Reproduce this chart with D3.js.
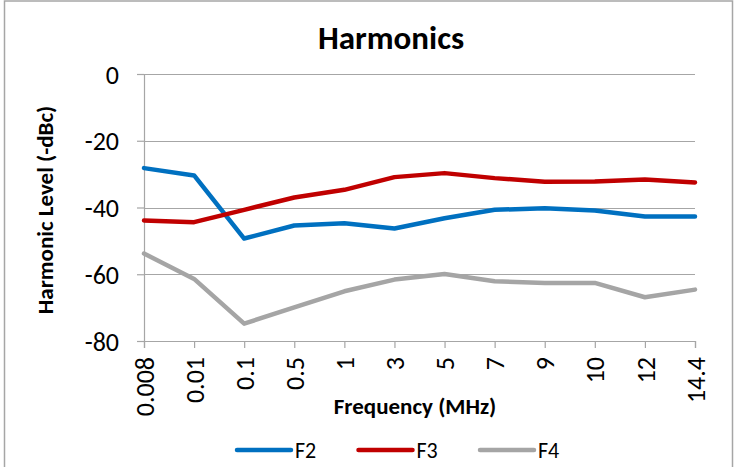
<!DOCTYPE html>
<html>
<head>
<meta charset="utf-8">
<script src="https://cdn.jsdelivr.net/npm/d3@7"></script>
<style>
  body { margin: 0; background: #fff; }
  svg text { font-family: "Carlito", "Liberation Sans Narrow", "Open Sans", sans-serif; fill: #000; }
</style>
</head>
<body>
<script>
// Chart data
const frequencies = ["0.008", "0.01", "0.1", "0.5", "1", "3", "5", "7", "9", "10", "12", "14.4"];
const f2Values = [-28.2, -30.4, -49.3, -45.4, -44.7, -46.3, -43.2, -40.7, -40.2, -40.9, -42.7, -42.7];
const f3Values = [-43.9, -44.4, -40.7, -37.0, -34.7, -30.9, -29.7, -31.2, -32.3, -32.2, -31.6, -32.5];
const f4Values = [-53.8, -61.4, -74.8, -69.9, -65.1, -61.6, -59.9, -62.1, -62.6, -62.6, -66.9, -64.6];
const yTicks = [0, -20, -40, -60, -80];

const seriesList = [
  { name: "F2", values: f2Values, color: "#0070C0" },
  { name: "F3", values: f3Values, color: "#C00000" },
  { name: "F4", values: f4Values, color: "#A5A5A5" },
];

const fullWidth = 734;
const fullHeight = 467;
const margin = { top: 74, right: 39, bottom: 126, left: 144 };
const innerWidth = fullWidth - margin.left - margin.right;
const innerHeight = fullHeight - margin.top - margin.bottom;

const svg = d3
  .select("body")
  .append("svg")
  .attr("width", fullWidth)
  .attr("height", fullHeight);

// Outer chart border (bottom edge is off the picture)
svg
  .append("path")
  .attr("d", `M4.5,${fullHeight} V1 H732.5 V${fullHeight}`)
  .attr("fill", "none")
  .attr("stroke", "#a6a6a6")
  .attr("stroke-width", 1.5);

const chartGroup = svg
  .append("g")
  .attr("transform", `translate(${margin.left}, ${margin.top})`);

// Scales
const x = d3.scalePoint().domain(frequencies).range([0, innerWidth]);
const y = d3.scaleLinear().domain([-80, 0]).range([innerHeight, 0]);

// Gridlines
chartGroup
  .append("g")
  .selectAll("line")
  .data(yTicks)
  .enter()
  .append("line")
  .attr("x1", 0)
  .attr("x2", innerWidth)
  .attr("y1", (d) => Math.round(y(d)) + 0.5)
  .attr("y2", (d) => Math.round(y(d)) + 0.5)
  .attr("stroke", "#a6a6a6")
  .attr("stroke-width", 1.2);

// Y axis
const yAxis = d3
  .axisLeft(y)
  .tickValues(yTicks)
  .tickSize(7)
  .tickPadding(18)
  .tickFormat((d) => String(d));
const yAxisG = chartGroup.append("g").call(yAxis);
yAxisG.select(".domain").attr("stroke", "#a6a6a6").attr("stroke-width", 1.2);
yAxisG.selectAll(".tick line").attr("stroke", "#a6a6a6").attr("stroke-width", 1.2);
yAxisG.selectAll(".tick text").style("font-size", "26px").attr("dy", "0.35em");

// X axis
const xAxis = d3.axisBottom(x).tickSize(7);
const xAxisG = chartGroup
  .append("g")
  .attr("transform", `translate(0,${innerHeight})`)
  .call(xAxis);
xAxisG.select(".domain").attr("stroke", "#a6a6a6").attr("stroke-width", 1.2);
xAxisG.selectAll(".tick line").attr("stroke", "#a6a6a6").attr("stroke-width", 1.2);
xAxisG
  .selectAll(".tick text")
  .style("font-size", "26px")
  .attr("text-anchor", "end")
  .attr("transform", "rotate(-90)")
  .attr("x", -16)
  .attr("y", 0)
  .attr("dy", "0.35em");

// Lines
const line = d3
  .line()
  .x((d, i) => x(frequencies[i]))
  .y((d) => y(d));

chartGroup
  .selectAll(".series")
  .data(seriesList)
  .enter()
  .append("path")
  .attr("class", "series")
  .attr("fill", "none")
  .attr("stroke", (d) => d.color)
  .attr("stroke-width", 4.5)
  .attr("stroke-linejoin", "round")
  .attr("stroke-linecap", "round")
  .attr("d", (d) => line(d.values));

// Title
svg
  .append("text")
  .attr("x", 391)
  .attr("y", 49)
  .attr("text-anchor", "middle")
  .style("font-size", "33px")
  .style("font-weight", "bold")
  .text("Harmonics");

// Axis titles
svg
  .append("text")
  .attr("x", 415)
  .attr("y", 414)
  .attr("text-anchor", "middle")
  .style("font-size", "23px")
  .style("font-weight", "bold")
  .text("Frequency (MHz)");

svg
  .append("text")
  .attr("transform", "rotate(-90)")
  .attr("x", -210)
  .attr("y", 53)
  .attr("text-anchor", "middle")
  .style("font-size", "23px")
  .style("font-weight", "bold")
  .text("Harmonic Level (-dBc)");

// Legend
const legend = svg
  .append("g")
  .selectAll("g")
  .data(seriesList)
  .enter()
  .append("g")
  .attr("transform", (d, i) => `translate(${237 + i * 121.5}, 450)`);

legend
  .append("line")
  .attr("x1", 0)
  .attr("x2", 54)
  .attr("stroke", (d) => d.color)
  .attr("stroke-width", 4.5)
  .attr("stroke-linecap", "round");

legend
  .append("text")
  .attr("x", 58)
  .attr("y", 8)
  .style("font-size", "22px")
  .text((d) => d.name);
</script>
</body>
</html>
